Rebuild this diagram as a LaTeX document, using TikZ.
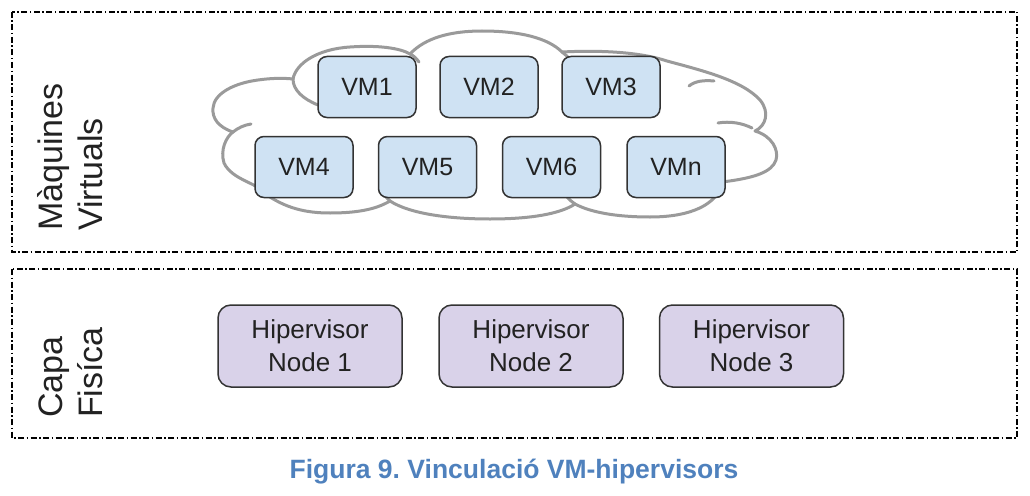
\documentclass[tikz,border=0pt]{standalone}
\usepackage{fontspec}
\setmainfont{Liberation Sans}
\definecolor{vmfill}{HTML}{CFE2F3}
\definecolor{hvfill}{HTML}{D9D2E9}
\definecolor{boxline}{HTML}{333333}
\definecolor{cloudgray}{HTML}{9A9A9A}
\definecolor{capblue}{HTML}{4F81BD}
\definecolor{txt}{HTML}{222222}
\tikzset{
  cloudline/.style={draw=cloudgray, line width=3pt, line join=round, line cap=round},
  frame/.style={draw=black, line width=1.3pt, dash pattern=on 6pt off 2.5pt on 1.5pt off 2.5pt},
  vmbox/.style={draw=boxline, fill=vmfill, line width=1.5pt, rounded corners=9pt,
     minimum width=98pt, minimum height=61pt, inner sep=0pt, text=txt,
     font=\fontsize{25}{30}\selectfont},
  hvbox/.style={draw=boxline, fill=hvfill, line width=1.5pt, rounded corners=13pt,
     minimum width=184pt, minimum height=82pt, inner sep=0pt, text=txt, align=center,
     font=\fontsize{26}{33}\selectfont},
  sidelabel/.style={rotate=90, anchor=base west, inner sep=0pt, text=txt,
     font=\fontsize{34}{40}\selectfont},
}
\begin{document}
\frenchspacing
\begin{tikzpicture}[x=1pt,y=-1pt]
\useasboundingbox (0,0) rectangle (1030,495);
% frames
\draw[frame] (12,12) rectangle (1017,252);
\draw[frame] (12,269) rectangle (1017,438);
% cloud outline
\draw[cloudline, fill=white]
  (233,132) .. controls (218,127) and (212,118) .. (213,108)
  .. controls (214,93) and (235,83) .. (258,80)
  .. controls (272,78) and (284,78) .. (293,79)
  .. controls (296,63) and (318,49) .. (350,47)
  .. controls (378,45) and (400,48) .. (410,54)
  .. controls (425,38) and (450,31) .. (482,31)
  .. controls (520,31) and (548,38) .. (562,52)
  .. controls (600,50) and (640,52) .. (667,61)
  .. controls (700,70) and (742,80) .. (760,100)
  .. controls (770,112) and (766,126) .. (755,131)
  .. controls (772,136) and (779,150) .. (776,160)
  .. controls (772,172) and (755,178) .. (722,182)
  .. controls (718,205) and (690,217) .. (650,217)
  .. controls (615,217) and (590,212) .. (575,204)
  .. controls (560,214) and (530,219) .. (490,219)
  .. controls (450,219) and (410,214) .. (390,201)
  .. controls (375,210) and (355,213) .. (330,213)
  .. controls (305,213) and (285,208) .. (264,193)
  .. controls (258,183) and (232,180) .. (224,163)
  .. controls (220,150) and (226,137) .. (233,132) -- cycle;
% cloud inner hooks
\draw[cloudline]
  (233,132) .. controls (238,128) and (244,125) .. (251,124)
  (293,79) .. controls (293,90) and (303,99) .. (318,105)
  (410,54) .. controls (414,56) and (416,58) .. (419,62)
  (562,52) .. controls (566,55) and (569,58) .. (572,62)
  (689,86) .. controls (695,81) and (704,80) .. (714,81)
  (718,123) .. controls (730,121) and (742,123) .. (752,128)
  (575,204) .. controls (571,201) and (568,199) .. (566,195)
  (390,201) .. controls (387,198) and (385,196) .. (383,193);
% VMs
\node[vmbox] (vm1) at (367,87) {VM1};
\node[vmbox] (vm2) at (489,87) {VM2};
\node[vmbox] (vm3) at (611,87) {VM3};
\node[vmbox] (vm4) at (304,167) {VM4};
\node[vmbox] (vm5) at (427.5,167) {VM5};
\node[vmbox] (vm6) at (551.5,167) {VM6};
\node[vmbox] (vmn) at (676,167) {VMn};
% hypervisors
\node[hvbox] (hv1) at (310,346) {Hipervisor\\Node 1};
\node[hvbox] (hv2) at (531,346) {Hipervisor\\Node 2};
\node[hvbox] (hv3) at (751.5,346) {Hipervisor\\Node 3};
% side labels
\node[sidelabel] (lbla) at (62,231) {Màquines};
\node[sidelabel] (lblb) at (102,231) {Virtuals};
\node[sidelabel] (lblc) at (62,418) {Capa};
\node[sidelabel] (lbld) at (102,418) {Fisíca};
% caption
\node[anchor=base, inner sep=0pt, text=capblue, font=\fontsize{26.5}{30}\selectfont\bfseries] (cap) at (514,478) {Figura 9. Vinculació VM-hipervisors};
\end{tikzpicture}
\end{document}
